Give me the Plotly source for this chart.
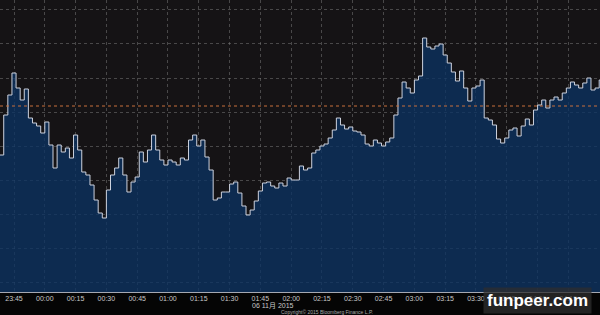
import plotly.graph_objects as go
from datetime import datetime, timedelta

# 2-minute samples starting 2015-11-05 23:38 (level above chart floor, arbitrary units)
start_time = "2015-11-05 23:38"
step_minutes = 2
levels = [
    137, 177, 197, 219, 204, 192, 203, 174, 169, 166,
    159, 170, 147, 124, 147, 140, 144, 134, 157, 142,
    120, 117, 107, 92, 79, 74, 102, 117, 124, 134,
    117, 100, 110, 115, 140, 130, 142, 157, 142, 132,
    127, 132, 130, 127, 134, 132, 152, 157, 146, 152,
    135, 122, 92, 94, 100, 100, 108, 110, 99, 86,
    77, 82, 91, 101, 109, 110, 106, 104, 109, 106,
    114, 112, 112, 126, 122, 124, 139, 142, 146, 148,
    154, 162, 174, 167, 163, 165, 161, 160, 157, 148,
    146, 152, 149, 146, 150, 154, 177, 194, 210, 204,
    199, 212, 216, 254, 245, 243, 246, 248, 237, 229,
    220, 211, 221, 204, 191, 204, 206, 212, 174, 172,
    167, 153, 149, 154, 162, 164, 156, 166, 173, 167,
    182, 187, 192, 184, 192, 195, 192, 199, 204, 210,
    207, 204, 209, 214, 202, 204, 212, 214,
]
reference_level = 186
date_label = "06 11月 2015"
copyright_text = "Copyright© 2015 Bloomberg Finance L.P."
watermark = "funpeer.com"

t0 = datetime.strptime(start_time, "%Y-%m-%d %H:%M")
times = [t0 + timedelta(minutes=step_minutes * i) for i in range(len(levels))]

fig = go.Figure()
fig.add_trace(go.Scatter(
    x=times, y=levels, mode="lines", line_shape="hv",
    line=dict(color="rgb(205,210,222)", width=1),
    fill="tozeroy", fillcolor="rgba(12,50,97,0.78)",
    hoverinfo="skip", showlegend=False,
))

fig.add_shape(type="line", xref="paper", x0=0, x1=1, yref="y",
              y0=reference_level, y1=reference_level,
              line=dict(color="rgb(200,112,60)", width=1, dash="dot"))

fig.update_xaxes(
    type="date",
    range=["2015-11-05 23:38:11", "2015-11-06 04:30:24"],
    tickformat="%H:%M", dtick=15 * 60 * 1000, tick0="2015-11-05 23:45",
    showgrid=True, gridcolor="rgba(125,125,125,0.5)", griddash="dot", gridwidth=1,
    showline=True, linecolor="rgb(165,168,178)", linewidth=1,
    ticks="", tickfont=dict(family="Liberation Sans", size=7, color="rgb(200,200,200)"),
    zeroline=False,
)
fig.update_yaxes(
    range=[0, 292], showticklabels=False,
    showgrid=True, gridcolor="rgba(125,125,125,0.5)", griddash="dot", gridwidth=1,
    tick0=9.4, dtick=34.1, zeroline=False, showline=False,
)

fig.add_annotation(text=date_label, xref="paper", yref="paper", x=273 / 600, y=-13.5 / 292,
                   showarrow=False, xanchor="center", yanchor="middle",
                   font=dict(family="Liberation Sans, Noto Sans CJK SC", size=7, color="rgb(200,200,200)"))
fig.add_annotation(text=copyright_text, xref="paper", yref="paper", x=327 / 600, y=-20 / 292,
                   showarrow=False, xanchor="center", yanchor="middle",
                   font=dict(family="Liberation Sans", size=5, color="rgb(170,170,170)"))
fig.add_annotation(text="<b>" + watermark + "</b>", xref="paper", yref="paper",
                   x=537 / 600, y=-8 / 292, showarrow=False, xanchor="center", yanchor="middle",
                   bgcolor="rgba(45,45,45,0.75)", borderpad=3,
                   font=dict(family="Liberation Sans", size=17, color="white"))

fig.update_layout(
    width=600, height=315,
    margin=dict(l=0, r=0, t=0, b=23),
    paper_bgcolor="#050505", plot_bgcolor="#151315",
)

fig.write_html("out.html", config={"displayModeBar": False})
